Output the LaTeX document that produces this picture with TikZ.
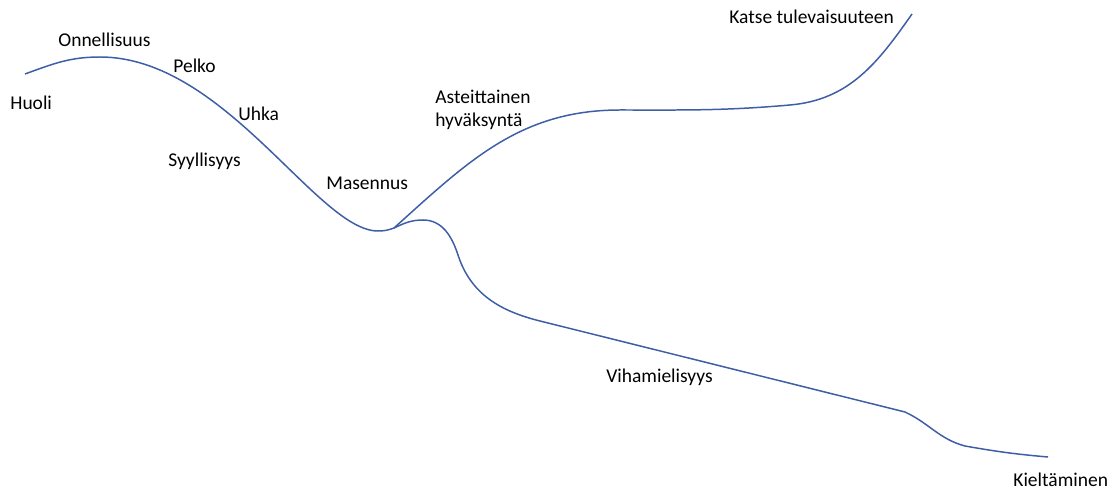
\documentclass[tikz,border=0pt]{standalone}
\usepackage{fontspec}
\setmainfont{Carlito}
\usepackage{tikz}
\usetikzlibrary{positioning}
\definecolor{curveblue}{RGB}{62,94,166}

\begin{document}
\begin{tikzpicture}[x=0.02cm,y=0.02cm]
            \tikzset{griefline/.style = {draw=curveblue, line width=0.85pt}}
            \tikzset{stage/.style = {anchor=base west, inner sep=0pt, font=\fontsize{11.1}{13}\selectfont}}

            \useasboundingbox (0,0) rectangle (1118,490);

            % first part of the curve
            \coordinate (g1) at (25,416);
            \coordinate (g2) at (100,433);
            \coordinate (g4) at (378,259);
            \coordinate (fork) at (394,262);

            \draw[griefline] (g1) to [out=20,in=180] (g2)
                to [out=0,in=180,out looseness=0.97,in looseness=0.47] (g4)
                to [out=0,in=200] (fork);

            % upper branch
            \coordinate (u1) at (620,380);
            \coordinate (u2) at (790,385);
            \coordinate (u3) at (912,476);

            \draw[griefline] (fork) to [out=42,in=180] (u1)
                to [out=0,in=185] (u2)
                to [out=5,in=235] (u3);

            % lower branch
            \coordinate (d1) at (423,270);
            \coordinate (d2) at (458,235);
            \coordinate (d3) at (540,169);
            \coordinate (d4) at (905,78);
            \coordinate (d5) at (965,44);
            \coordinate (d6) at (1048,33);

            \draw[griefline] (fork) to [out=25,in=180] (d1)
                to [out=0,in=108] (d2)
                to [out=-72,in=166] (d3)
                to [out=-14,in=166] (d4)
                to [out=-25,in=165] (d5)
                to [out=-10,in=175] (d6);

            % stages
            \node[stage] (huoli) at (10,380) {Huoli};
            \node[stage] (onni) at (58,443) {Onnellisuus};
            \node[stage] (pelko) at (173,417) {Pelko};
            \node[stage] (uhka) at (238,369) {Uhka};
            \node[stage] (syyllisyys) at (168,323) {Syyllisyys};
            \node[stage] (masennus) at (326,300) {Masennus};
            \node[stage, anchor=north west, align=left] (hyvaksynta) at (435,400) {Asteittainen\\hyväksyntä};
            \node[stage] (katse) at (729,466) {Katse tulevaisuuteen};
            \node[stage] (viha) at (606,107) {Vihamielisyys};
            \node[stage] (kielto) at (1013,4) {Kieltäminen};

\end{tikzpicture}
\end{document}
